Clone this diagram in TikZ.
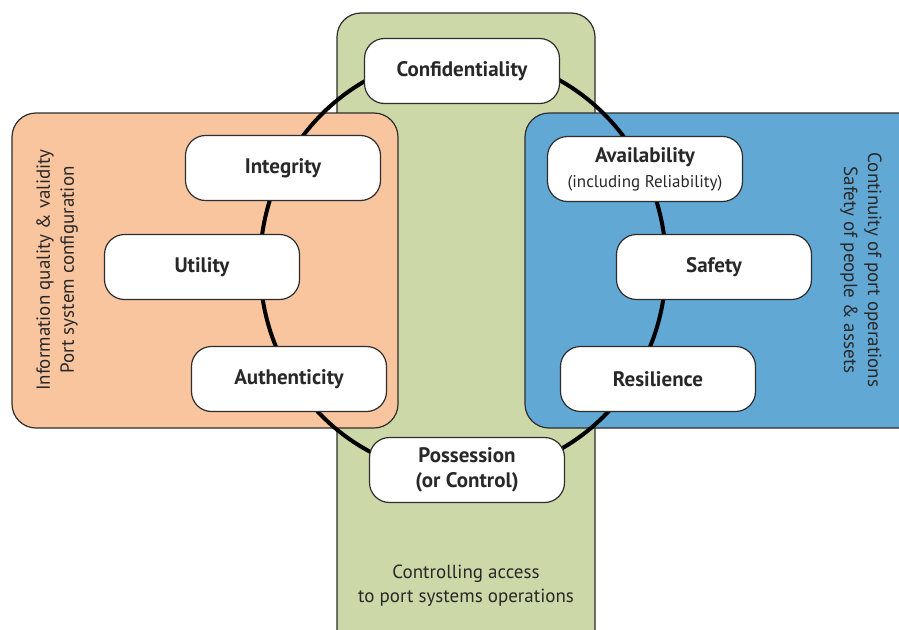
\documentclass[tikz,border=0pt]{standalone}
\usepackage{fontspec}
\setmainfont{PT Sans}
\usepackage{tikz}
\usetikzlibrary{positioning}
\pgfdeclarelayer{background1}
\pgfdeclarelayer{background2}
\pgfsetlayers{background2,background1,main}

\begin{document}
\begin{tikzpicture}[x=1pt,y=-1pt]

	\definecolor{infocolor}{RGB}{249,197,159}
	\definecolor{accesscolor}{RGB}{205,216,168}
	\definecolor{contcolor}{RGB}{98,168,212}
	\definecolor{edgecolor}{RGB}{45,45,45}
	\definecolor{labelcolor}{RGB}{40,40,40}

	\tikzset{prop/.style={draw=edgecolor, line width=1.2pt, fill=white, rounded corners=20pt,
			minimum width=195pt, minimum height=65pt, align=center, inner sep=2pt,
			font=\bfseries\fontsize{21}{25}\selectfont, text=labelcolor},
		note/.style={align=center, font=\fontsize{19}{24}\selectfont, text=labelcolor}}

	\useasboundingbox (0,0) rectangle (899,629);

	\begin{pgfonlayer}{background2}
		\draw [draw=edgecolor,line width=1.2pt,fill=accesscolor,rounded corners=24pt] (337,13) rectangle (595,660);
	\end{pgfonlayer}
	\begin{pgfonlayer}{background1}
		\draw [draw=edgecolor,line width=1.2pt,fill=infocolor,rounded corners=24pt] (12,113) rectangle (398,428);
		\draw [draw=edgecolor,line width=1.2pt,fill=contcolor,rounded corners=24pt] (525,113) rectangle (940,428);
	\end{pgfonlayer}

	\coordinate (hub) at (463,265);
	\draw [line width=4pt] (hub) ellipse [x radius=203pt, y radius=210pt];

	\node(conf)[prop] at (462,71) {Confidentiality};
	\node(integ)[prop] at (283,168) {Integrity};
	\node(util)[prop] at (202,267) {Utility};
	\node(auth)[prop] at (289,379) {Authenticity};
	\node(avail)[prop] at (645,169) {Availability\\{\mdseries\fontsize{17}{20}\selectfont(including Reliability)}};
	\node(safe)[prop] at (714,267) {Safety};
	\node(resil)[prop] at (658,379) {Resilience};
	\node(poss)[prop] at (467,470) {Possession\\(or Control)};

	\node(infotext)[note, rotate=90] at (57,270) {Information quality \& validity\\Port system configuration};
	\node(conttext)[note, rotate=-90] at (861,270) {Continuity of port operations\\Safety of people \& assets};
	\node(accesstext)[note] at (466,586) {Controlling access\\to port systems operations};

\end{tikzpicture}
\end{document}
